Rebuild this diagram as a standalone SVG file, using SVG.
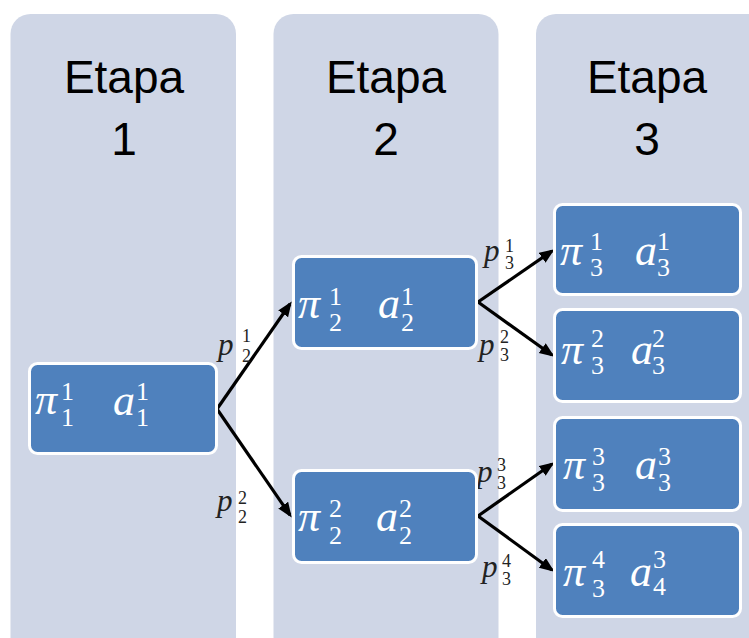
<svg xmlns="http://www.w3.org/2000/svg" width="749" height="638" viewBox="0 0 749 638">
<style>
.col{fill:#cfd6e6}
.hd{font-family:"Liberation Sans",Arial,sans-serif;font-size:46px;fill:#000;text-anchor:middle}
.nd{fill:#4f81bd;stroke:#fff;stroke-width:3}
.m{font-family:"Liberation Serif","DejaVu Serif",serif;fill:#fff}
.big{font-size:44px;font-style:italic}
.sm{font-size:26px}
.lb{font-family:"Liberation Serif","DejaVu Serif",serif;fill:#222}
.lp{font-size:31px;font-style:italic}
.ls{font-size:18px}
.ar{fill:none;stroke:#000;stroke-width:3.2;marker-end:url(#ah)}
</style>
<defs>
<marker id="ah" markerUnits="userSpaceOnUse" markerWidth="18" markerHeight="14" refX="12" refY="6" orient="auto">
<path d="M0,0 L15,6 L0,12 z" fill="#000"/>
</marker>
</defs>
<rect width="749" height="638" fill="#fff"/>
<g id="col1"><rect class="col" x="10.5" y="14" width="225.5" height="660" rx="20"/><text class="hd" x="124" y="93">Etapa</text><text class="hd" x="124" y="155">1</text></g>
<g id="col2"><rect class="col" x="273.5" y="14" width="225" height="660" rx="20"/><text class="hd" x="386" y="93">Etapa</text><text class="hd" x="386" y="155">2</text></g>
<g id="col3"><rect class="col" x="536" y="14" width="240" height="660" rx="20"/><text class="hd" x="647" y="93">Etapa</text><text class="hd" x="647" y="155">3</text></g>

<g id="connectors">
<path class="ar" d="M217,409 L290,304"/>
<path class="ar" d="M217,409 L290,515"/>
<path class="ar" d="M478,302 L552,251"/>
<path class="ar" d="M478,302 L552,355"/>
<path class="ar" d="M478,516 L552,464"/>
<path class="ar" d="M478,516 L552,570"/>
<g class="lb">
<text class="lp" x="218" y="355">p</text><text class="ls" x="242" y="342">1</text><text class="ls" x="242" y="362">2</text>
<text class="lp" x="217" y="511">p</text><text class="ls" x="238" y="504">2</text><text class="ls" x="238" y="523">2</text>
<text class="lp" x="484" y="261">p</text><text class="ls" x="505" y="252">1</text><text class="ls" x="505" y="269">3</text>
<text class="lp" x="479" y="355">p</text><text class="ls" x="500" y="343">2</text><text class="ls" x="500" y="361">3</text>
<text class="lp" x="477" y="482">p</text><text class="ls" x="497" y="471">3</text><text class="ls" x="497" y="489">3</text>
<text class="lp" x="482" y="577">p</text><text class="ls" x="502" y="567">4</text><text class="ls" x="502" y="585">3</text>
</g>
</g>

<g id="n1"><rect class="nd" x="29.5" y="363.5" width="187" height="90" rx="8"/>
<g class="m"><text class="big" x="35" y="414">π</text><text class="sm" x="61" y="400">1</text><text class="sm" x="61" y="426">1</text>
<text class="big" x="113" y="415">a</text><text class="sm" x="136" y="400">1</text><text class="sm" x="136" y="426">1</text></g></g>

<g id="n2a"><rect class="nd" x="293.5" y="256.5" width="183" height="92" rx="8"/>
<g class="m"><text class="big" x="298" y="318">π</text><text class="sm" x="329" y="305">1</text><text class="sm" x="329" y="331">2</text>
<text class="big" x="378" y="318">a</text><text class="sm" x="401" y="305">1</text><text class="sm" x="401" y="331">2</text></g></g>

<g id="n2b"><rect class="nd" x="293.5" y="470.5" width="183" height="92" rx="8"/>
<g class="m"><text class="big" x="298" y="531">π</text><text class="sm" x="329" y="517">2</text><text class="sm" x="329" y="544">2</text>
<text class="big" x="376" y="531">a</text><text class="sm" x="399" y="517">2</text><text class="sm" x="399" y="544">2</text></g></g>

<g id="n3a"><rect class="nd" x="554.5" y="204.5" width="186" height="90" rx="8"/>
<g class="m"><text class="big" x="560" y="265">π</text><text class="sm" x="590" y="250">1</text><text class="sm" x="590" y="276">3</text>
<text class="big" x="635" y="265">a</text><text class="sm" x="657" y="250">1</text><text class="sm" x="657" y="276">3</text></g></g>

<g id="n3b"><rect class="nd" x="554.5" y="309.5" width="186" height="92" rx="8"/>
<g class="m"><text class="big" x="561" y="364">π</text><text class="sm" x="591" y="347">2</text><text class="sm" x="591" y="374">3</text>
<text class="big" x="631" y="364">a</text><text class="sm" x="652" y="347">2</text><text class="sm" x="652" y="374">3</text></g></g>

<g id="n3c"><rect class="nd" x="554.5" y="417.5" width="186" height="93" rx="8"/>
<g class="m"><text class="big" x="563" y="479">π</text><text class="sm" x="592" y="465">3</text><text class="sm" x="592" y="491">3</text>
<text class="big" x="635" y="479">a</text><text class="sm" x="658" y="465">3</text><text class="sm" x="658" y="491">3</text></g></g>

<g id="n3d"><rect class="nd" x="554.5" y="524.5" width="186" height="92" rx="8"/>
<g class="m"><text class="big" x="563" y="586">π</text><text class="sm" x="592" y="568">4</text><text class="sm" x="592" y="597">3</text>
<text class="big" x="630" y="586">a</text><text class="sm" x="653" y="568">3</text><text class="sm" x="653" y="595">4</text></g></g>
</svg>
